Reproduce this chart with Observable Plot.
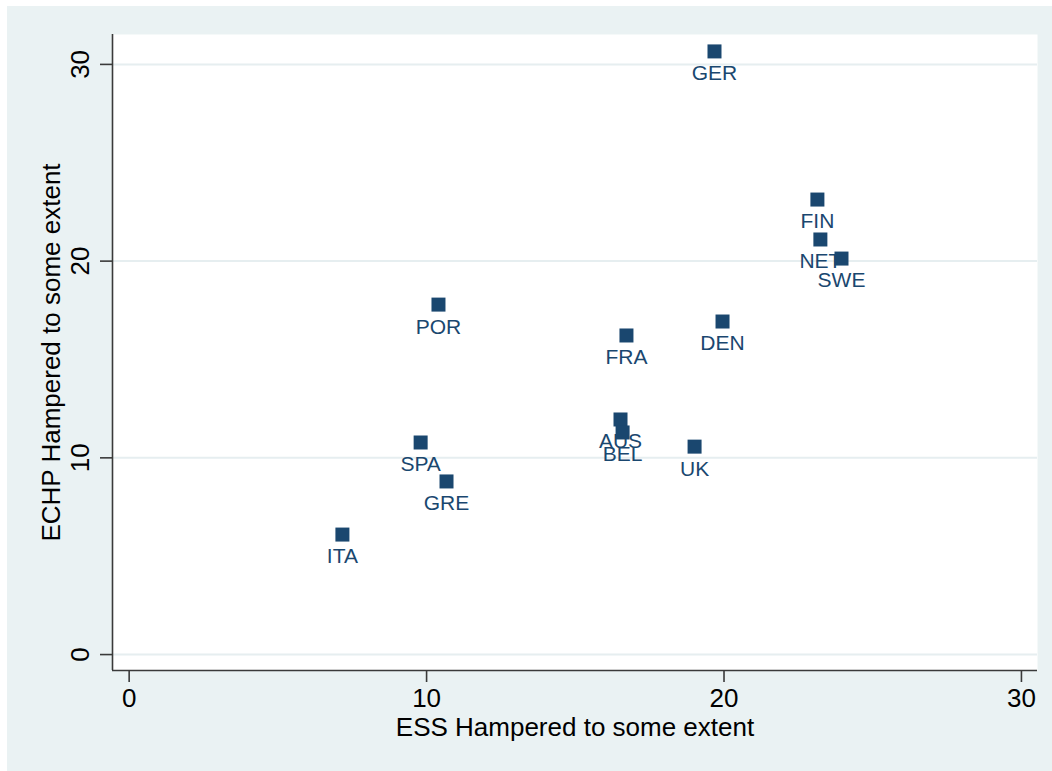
<!DOCTYPE html>
<html>
<head>
<meta charset="utf-8">
<script src="https://cdn.jsdelivr.net/npm/d3@7"></script>
<script src="https://cdn.jsdelivr.net/npm/@observablehq/plot@0.6"></script>
<style>
  html, body { margin: 0; padding: 0; background: #ffffff; overflow: hidden; }
  #bg { position: absolute; left: 7px; top: 6px; width: 1045px; height: 765px; background: #eaf2f3; }
  #chart { position: absolute; left: 0; top: 0; }
  #chart svg { background: transparent; }
</style>
</head>
<body>
<div id="bg"></div>
<div id="chart"></div>
<script>
const countries = ["GER", "FIN", "NET", "SWE", "POR", "FRA", "DEN", "AUS", "BEL", "UK", "SPA", "GRE", "ITA"];
const essValues = [19.68, 23.14, 23.24, 23.95, 10.40, 16.72, 19.95, 16.52, 16.59, 19.01, 9.80, 10.67, 7.17];
const echpValues = [30.66, 23.13, 21.10, 20.13, 17.79, 16.22, 16.93, 11.95, 11.29, 10.57, 10.78, 8.80, 6.10];
const xTicks = [0, 10, 20, 30];
const yTicks = [0, 10, 20, 30];
const xTitle = "ESS Hampered to some extent";
const yTitle = "ECHP Hampered to some extent";

const data = countries.map((c, i) => ({country: c, ess: essValues[i], echp: echpValues[i]}));
const xDomain = [-0.56, 30.54];
const yDomain = [-0.81, 31.52];
const navy = "#1a476f";
const font = "Liberation Sans, Arial, Helvetica, sans-serif";

const chart = Plot.plot({
  width: 1052,
  height: 771,
  marginLeft: 112,
  marginRight: 15,
  marginTop: 34,
  marginBottom: 101,
  style: {fontFamily: font, background: "transparent"},
  x: {domain: xDomain, axis: null},
  y: {domain: yDomain, axis: null},
  marks: [
    Plot.frame({fill: "white", stroke: null}),
    Plot.ruleY(yTicks, {y: d => d, stroke: "#e6eef0", strokeWidth: 2}),
    Plot.ruleX([xDomain[0]], {stroke: "#3a3a3a", strokeWidth: 1.6}),
    Plot.ruleY([yDomain[0]], {stroke: "#3a3a3a", strokeWidth: 1.6}),
    Plot.axisX({ticks: xTicks, tickSize: 12, tickPadding: 6, fontSize: 26, tickFormat: d => String(d), label: null, stroke: "#3a3a3a", color: "#000", strokeWidth: 1.6}),
    Plot.axisY({ticks: yTicks, tickSize: 12, tickFormat: () => "", label: null, stroke: "#3a3a3a", strokeWidth: 1.6}),
    Plot.text(yTicks, {y: d => d, text: d => String(d), frameAnchor: "left", dx: -32, rotate: -90, fontSize: 26, fill: "#000", textAnchor: "middle", lineAnchor: "middle"}),
    Plot.text([xTitle], {frameAnchor: "bottom", dy: 57, fontSize: 26, fill: "#000", lineAnchor: "middle"}),
    Plot.text([yTitle], {frameAnchor: "left", dx: -61, rotate: -90, fontSize: 26, fill: "#000", textAnchor: "middle", lineAnchor: "middle"}),
    Plot.dot(data, {x: "ess", y: "echp", symbol: "square", r: 7.9, fill: navy, stroke: null}),
    Plot.text(data, {x: "ess", y: "echp", text: "country", fill: navy, fontSize: 21, lineAnchor: "top", dy: 14})
  ]
});
document.getElementById("chart").appendChild(chart);
</script>
</body>
</html>
